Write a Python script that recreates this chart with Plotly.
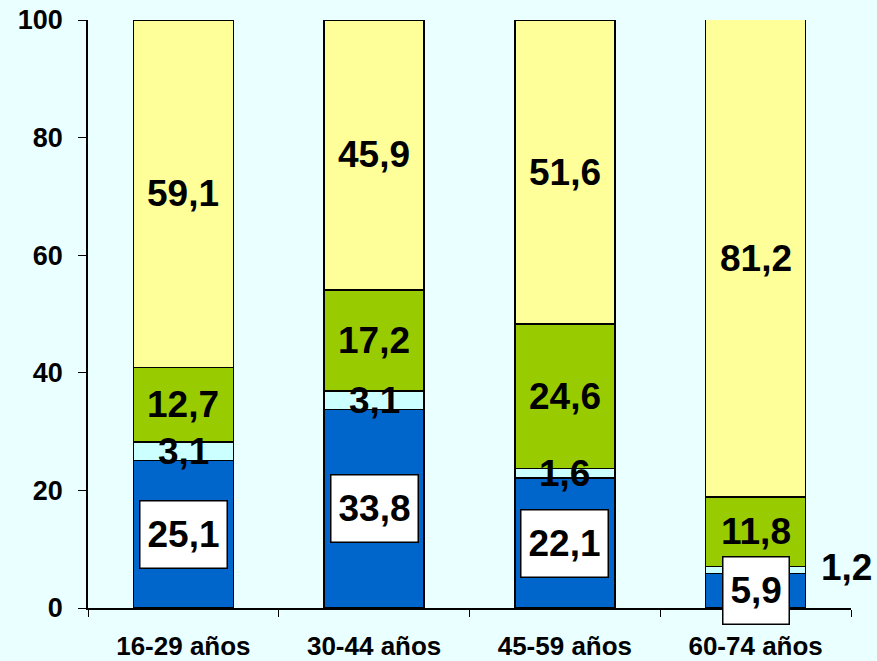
import plotly.graph_objects as go

# Grupos de edad y porcentajes por segmento (de abajo arriba)
categorias = ["16-29 años", "30-44 años", "45-59 años", "60-74 años"]
azul = [25.1, 33.8, 22.1, 5.9]
celeste = [3.1, 3.1, 1.6, 1.2]
verde = [12.7, 17.2, 24.6, 11.8]
amarillo = [59.1, 45.9, 51.6, 81.2]
y_ticks = [0, 20, 40, 60, 80, 100]

series = [
    ("azul", azul, "#0066CC"),
    ("celeste", celeste, "#CCFFFF"),
    ("verde", verde, "#99CC00"),
    ("amarillo", amarillo, "#FFFF99"),
]

def fmt(v):
    return f"{v:.1f}".replace(".", ",")

fig = go.Figure()
for name, vals, color in series:
    fig.add_trace(go.Bar(
        x=categorias, y=vals, name=name,
        marker=dict(color=color, line=dict(color="black", width=1.5)),
        hoverinfo="skip",
    ))

# etiquetas centradas en cada segmento
font = dict(family="Liberation Sans, Arial", size=37, color="black")
base = [0] * len(categorias)
for name, vals, color in series:
    for i, v in enumerate(vals):
        mid = base[i] + v / 2
        ann = dict(x=categorias[i], y=mid, text=f"<b>{fmt(v)}</b>",
                   showarrow=False, font=font)
        if name == "azul":
            ann.update(bgcolor="white", bordercolor="black", borderwidth=1.5,
                       borderpad=7, height=52)
        if name == "celeste" and v < 1.5:
            # segmento demasiado estrecho: etiqueta fuera, a la derecha
            ann.update(xshift=91, yshift=2)
        fig.add_annotation(**ann)
        base[i] += v

fig.update_layout(
    barmode="stack",
    bargap=0.476,
    showlegend=False,
    width=877, height=661,
    paper_bgcolor="#EAFFFF",
    plot_bgcolor="#EAFFFF",
    margin=dict(l=88, r=26, t=20, b=53),
    font=dict(family="Liberation Sans, Arial", color="black"),
    xaxis=dict(
        range=[-0.5, len(categorias) - 0.5],
        showline=True, linecolor="black", linewidth=1.5,
        ticks="outside", tickson="boundaries", ticklen=7, tickcolor="black",
        tickfont=dict(size=26, family="Liberation Sans, Arial"),
        ticklabelstandoff=14, automargin=False,
        tickvals=categorias, ticktext=[f"<b>{c}</b>" for c in categorias],
        showgrid=False,
    ),
    yaxis=dict(
        range=[0, 100], tickvals=y_ticks,
        ticktext=[f"<b>{t}</b>" for t in y_ticks],
        showline=True, linecolor="black", linewidth=1.5,
        ticks="outside", ticklen=8, tickcolor="black",
        tickfont=dict(size=27, family="Liberation Sans, Arial"),
        ticklabelstandoff=10, automargin=False,
        showgrid=False, zeroline=False,
    ),
)

fig.write_html("out.html", config={"displayModeBar": False},
               post_script="document.body.style.margin='0';")
